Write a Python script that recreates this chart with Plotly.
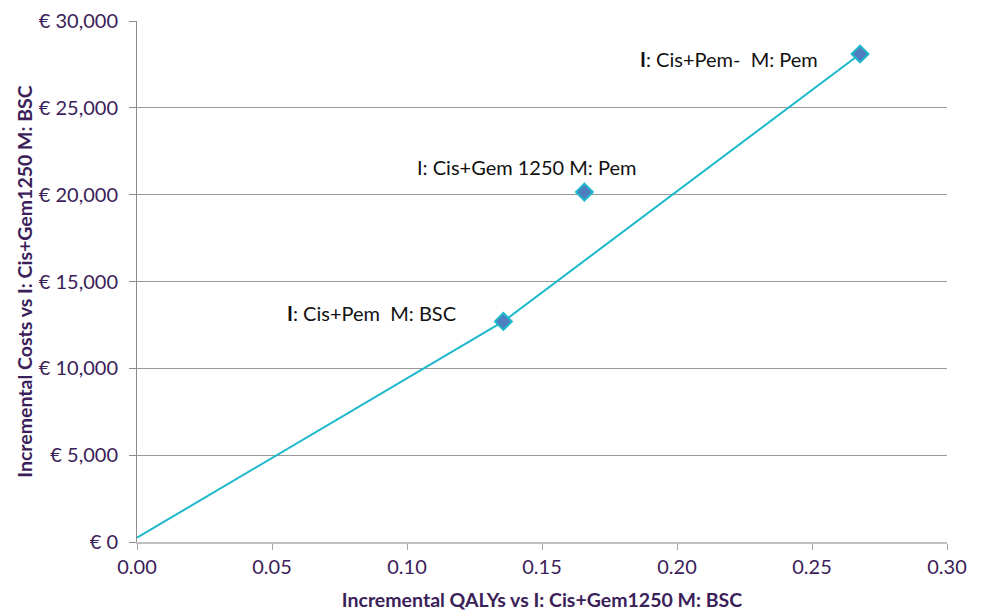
import plotly.graph_objects as go

# Data
strategies = ["I: Cis+Pem M: BSC", "I: Cis+Gem 1250 M: Pem", "I: Cis+Pem- M: Pem"]
labels_html = ["<b>I</b>: Cis+Pem  M: BSC", "I: Cis+Gem 1250 M: Pem", "<b>I</b>: Cis+Pem-  M: Pem"]
inc_qalys = [0.1357, 0.1657, 0.2678]
inc_costs = [12700, 20150, 28100]

# Efficient frontier (dominated strategy skipped)
frontier_x = [0.0, 0.1357, 0.2678]
frontier_y = [250, 12700, 28100]

x_ticks = [0.00, 0.05, 0.10, 0.15, 0.20, 0.25, 0.30]
x_tick_text = ["0.00", "0.05", "0.10", "0.15", "0.20", "0.25", "0.30"]
y_ticks = [0, 5000, 10000, 15000, 20000, 25000, 30000]
y_tick_text = ["€ 0", "€ 5,000", "€ 10,000", "€ 15,000", "€ 20,000", "€ 25,000", "€ 30,000"]

# label offsets in pixels (relative to points)
label_xshift = [-45, 54, -40]
label_yshift = [8, 25, -5]
label_anchor = ["right", "right", "right"]

purple = "#3B2159"
font_family = "Lato, 'Open Sans', sans-serif"

fig = go.Figure()
fig.add_trace(go.Scatter(
    x=frontier_x, y=frontier_y, mode="lines",
    line=dict(color="#1DB9CB", width=2),
    showlegend=False, hoverinfo="skip",
))
fig.add_trace(go.Scatter(
    x=inc_qalys, y=inc_costs, mode="markers",
    marker=dict(symbol="diamond", size=13, color="#4F7EC0",
                line=dict(color="#1DB9CB", width=2)),
    text=strategies, showlegend=False,
))

for xv, yv, t, xs, ys, an in zip(inc_qalys, inc_costs, labels_html, label_xshift, label_yshift, label_anchor):
    fig.add_annotation(x=xv, y=yv, text=t, showarrow=False, xanchor=an, yanchor="middle",
                       xshift=xs, yshift=ys,
                       font=dict(family=font_family, size=20, color="#111111"))

# page body has an 8px margin, so the figure is drawn 8px in from the window edge
fig.update_layout(
    width=973, height=610,
    margin=dict(l=129, r=34, t=13, b=76),
    paper_bgcolor="white", plot_bgcolor="white",
    font=dict(family=font_family, color=purple),
)
fig.update_xaxes(
    range=[0, 0.30], tickvals=x_ticks, ticktext=x_tick_text,
    showgrid=False, zeroline=False, automargin=False,
    showline=True, linecolor="#BFBFBF", linewidth=2,
    ticks="outside", ticklen=6, tickcolor="#A6A6A6", ticklabeloverflow="allow",
    tickfont=dict(size=20, color=purple),
    title=dict(text="<b>Incremental QALYs vs I: Cis+Gem1250 M: BSC</b>",
               font=dict(size=19.5, color=purple), standoff=16),
)
fig.update_yaxes(
    range=[0, 30000], tickvals=y_ticks, ticktext=y_tick_text,
    showgrid=True, gridcolor="#999999", gridwidth=1, zeroline=False, automargin=False,
    showline=True, linecolor="#8C8C8C", linewidth=1,
    ticks="outside", ticklen=7, tickcolor="#8C8C8C", ticklabelstandoff=7,
    ticklabeloverflow="allow",
    tickfont=dict(size=20, color=purple),
    title=dict(text="<b>Incremental Costs vs I: Cis+Gem1250 M: BSC</b>",
               font=dict(size=19.5, color=purple), standoff=0),
)

fig.write_html("out.html")
